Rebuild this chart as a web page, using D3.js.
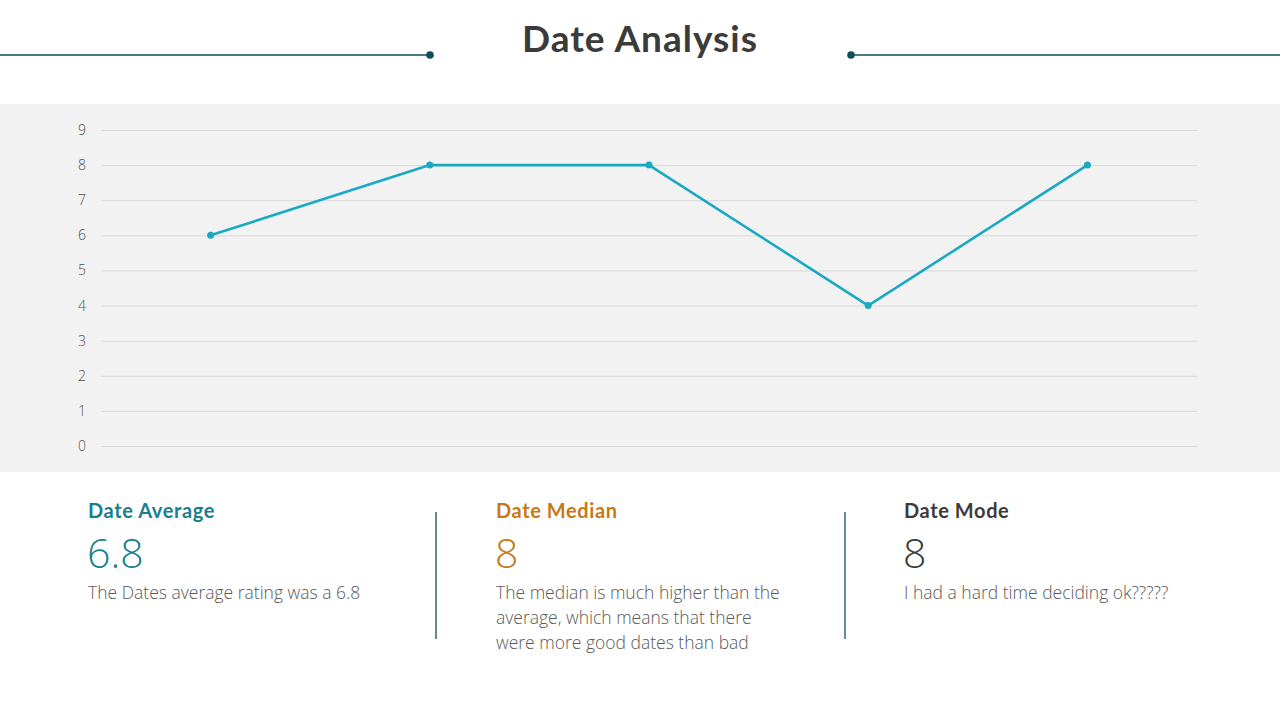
<!DOCTYPE html>
<html lang="en">
<head>
<meta charset="UTF-8">
<title>Date Analysis</title>
<style>
    body{
        margin: 0;
        background: #ffffff;
    }
    #container{
        width: 1280px;
        height: 720px;
    }
    .title{
        font-family: "Lato", "Open Sans", sans-serif;
        font-weight: 700;
        font-size: 37px;
        letter-spacing: 1px;
        fill: #3b3b3b;
    }
    .axis text{
        font-family: "Open Sans", sans-serif;
        font-weight: 300;
        font-size: 14px;
        fill: #4f4f4f;
    }
    .head{
        font-family: "Lato", sans-serif;
        font-weight: 700;
        font-size: 20px;
        letter-spacing: 0.6px;
    }
    .big{
        font-family: "Open Sans", sans-serif;
        font-weight: 300;
        font-size: 41px;
    }
    .desc{
        font-family: "Open Sans", sans-serif;
        font-weight: 300;
        font-size: 17.5px;
        fill: #595959;
    }
</style>
<script src="https://cdn.jsdelivr.net/npm/d3@7"></script>
</head>
<body>
<div id="container"></div>
<script type="text/javascript">
    // ratings of the five dates
    const dates = ["Date 1", "Date 2", "Date 3", "Date 4", "Date 5"]
    const ratings = [6, 8, 8, 4, 8]
    const yTicks = [0, 1, 2, 3, 4, 5, 6, 7, 8, 9]

    // summary blocks under the chart
    const statTitles = ["Date Average", "Date Median", "Date Mode"]
    const statValues = ["6.8", "8", "8"]
    const statColors = ["#177f8e", "#c87814", "#3b3b3b"]
    const statText = [
        ["The Dates average rating was a 6.8"],
        ["The median is much higher than the", "average, which means that there", "were more good dates than bad"],
        ["I had a hard time deciding ok?????"]
    ]

    const width = 1280, height = 720
    const svg = d3.select("#container")
        .append("svg")
        .attr("width", width)
        .attr("height", height)

    // header
    svg.append("text")
        .attr("class", "title")
        .attr("x", 640)
        .attr("y", 52)
        .attr("text-anchor", "middle")
        .text("Date Analysis")

    const lineColor = "#0f4f5c"
    svg.append("line").attr("x1", 0).attr("x2", 430).attr("y1", 55).attr("y2", 55)
        .attr("stroke", lineColor).attr("stroke-width", 1.3)
    svg.append("line").attr("x1", 851).attr("x2", 1280).attr("y1", 55).attr("y2", 55)
        .attr("stroke", lineColor).attr("stroke-width", 1.3)
    svg.append("circle").attr("cx", 430).attr("cy", 55).attr("r", 3.8).attr("fill", lineColor)
    svg.append("circle").attr("cx", 851).attr("cy", 55).attr("r", 3.8).attr("fill", lineColor)

    // chart panel
    svg.append("rect")
        .attr("x", 0).attr("y", 104)
        .attr("width", width).attr("height", 368)
        .attr("fill", "#f2f2f2")

    const xScale = d3.scalePoint()
        .domain(dates)
        .range([101, 1197])
        .padding(0.5)

    const yScale = d3.scaleLinear()
        .domain([0, 9])
        .range([446, 130])

    const yAxis = d3.axisLeft(yScale)
        .tickValues(yTicks)
        .tickSize(-(1197 - 101))
        .tickPadding(15)

    const gy = svg.append("g").attr("class", "axis")
        .attr("transform", "translate(101,0)")
        .call(yAxis)
    gy.select(".domain").remove()
    gy.selectAll(".tick line").attr("stroke", "#d9d9d9").attr("stroke-width", 1)

    const lineGen = d3.line()
        .x((d, i) => xScale(dates[i]))
        .y(d => yScale(d))

    svg.append("path")
        .datum(ratings)
        .attr("d", lineGen)
        .attr("fill", "none")
        .attr("stroke", "#1aa9c2")
        .attr("stroke-width", 2.6)
        .attr("stroke-linejoin", "round")

    svg.selectAll(".pt")
        .data(ratings)
        .enter()
        .append("circle")
        .attr("class", "pt")
        .attr("cx", (d, i) => xScale(dates[i]))
        .attr("cy", d => yScale(d))
        .attr("r", 3.5)
        .attr("fill", "#1aa9c2")

    // summary columns
    const colX = [88, 496, 904]
    const cols = svg.selectAll(".stat")
        .data(statTitles)
        .enter()
        .append("g")
        .attr("class", "stat")
        .attr("transform", (d, i) => `translate(${colX[i]},0)`)

    cols.append("text")
        .attr("class", "head")
        .attr("y", 518)
        .attr("fill", (d, i) => statColors[i])
        .text(d => d)

    cols.append("text")
        .attr("class", "big")
        .attr("x", -1)
        .attr("y", 568)
        .attr("fill", (d, i) => statColors[i])
        .text((d, i) => statValues[i])

    cols.each(function(d, i){
        d3.select(this).selectAll(".desc")
            .data(statText[i])
            .enter()
            .append("text")
            .attr("class", "desc")
            .attr("y", (t, j) => 599 + j * 25)
            .text(t => t)
    })

    // dividers
    svg.selectAll(".divider")
        .data([436, 845])
        .enter()
        .append("line")
        .attr("class", "divider")
        .attr("x1", d => d).attr("x2", d => d)
        .attr("y1", 512).attr("y2", 639)
        .attr("stroke", lineColor)
        .attr("stroke-width", 1.3)
</script>
</body>
</html>
